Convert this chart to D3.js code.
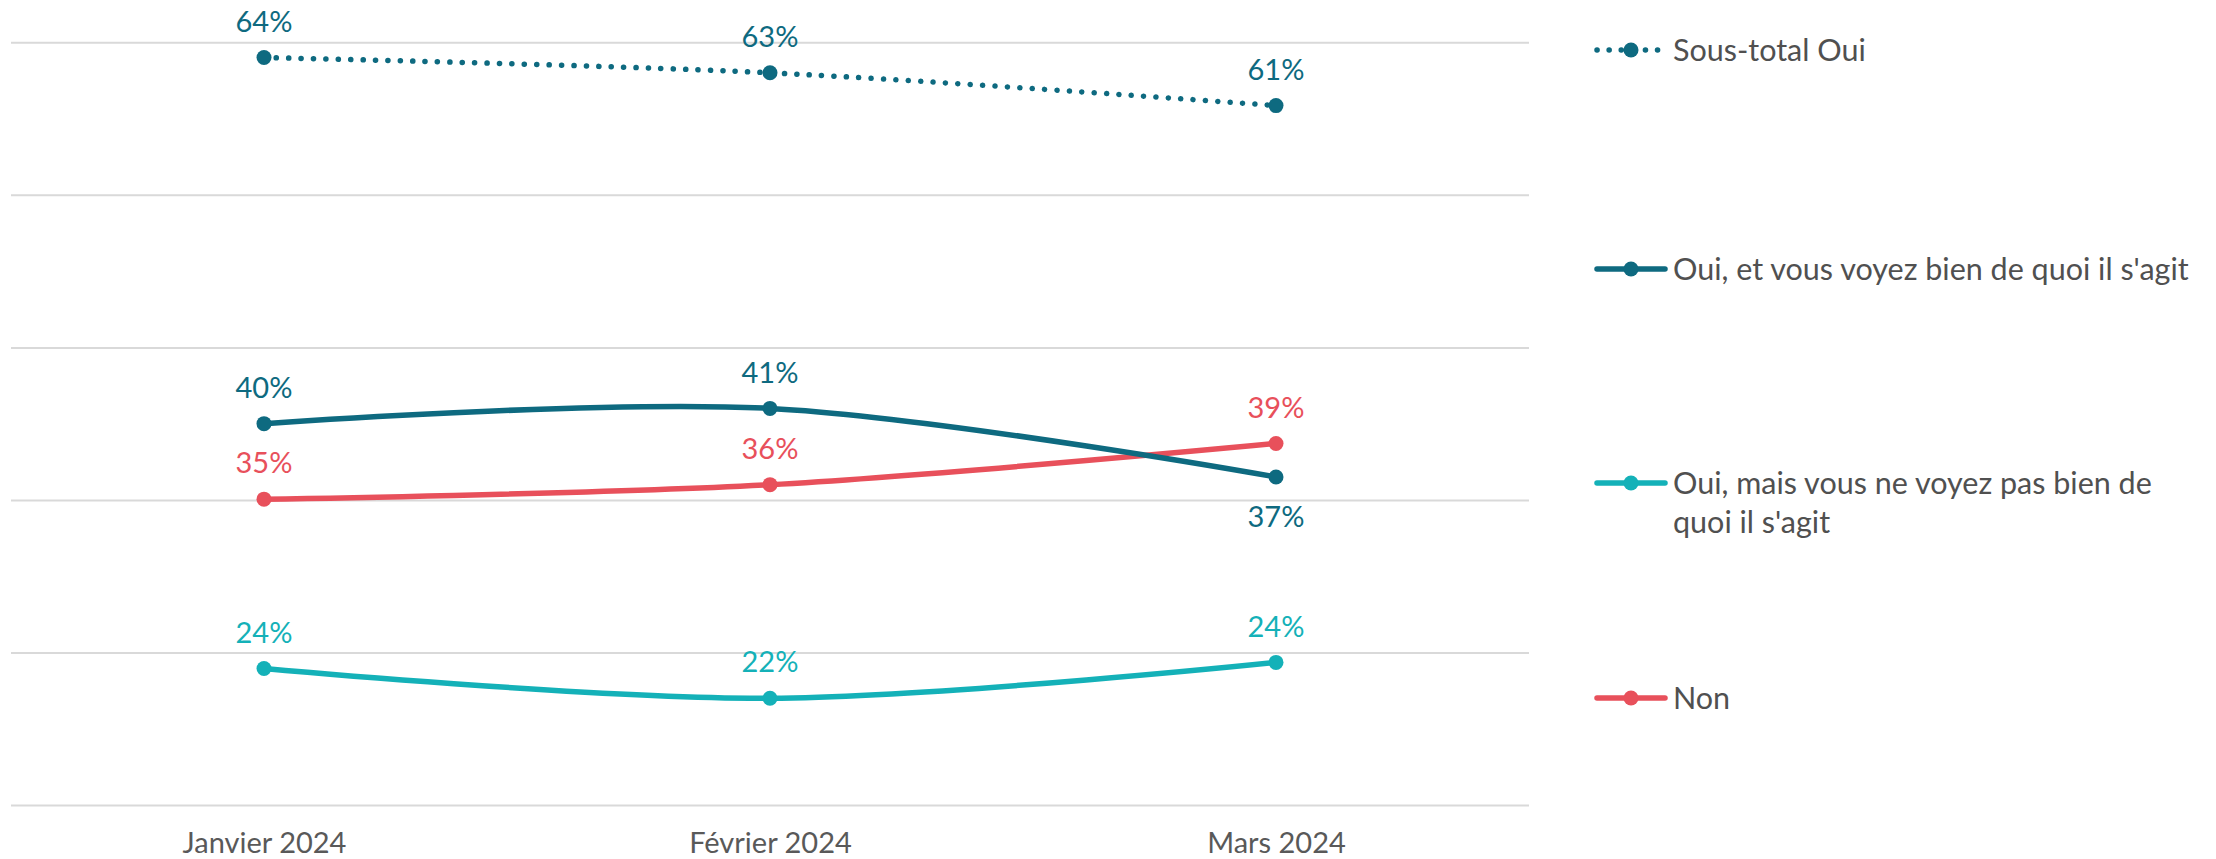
<!DOCTYPE html>
<html><head><meta charset="utf-8">
<script src="https://cdn.jsdelivr.net/npm/d3@7"></script>
<style>
html,body{margin:0;padding:0;background:#fff;}
svg{display:block;}
text{font-family:Lato,"Open Sans",sans-serif;}
</style></head>
<body>
<svg id="chart" width="2216" height="859"></svg>
<script>
const categories = ["Janvier 2024", "Février 2024", "Mars 2024"];
const gridValues = [15, 25, 35, 45, 55, 65];
const sousTotalOui = [64.0, 63.0, 60.85];
const ouiBien = [40.0, 41.0, 36.5];
const ouiPasBien = [23.95, 22.0, 24.35];
const non = [35.05, 36.0, 38.7];
const seriesNames = ["Sous-total Oui", "Oui, et vous voyez bien de quoi il s'agit", "Oui, mais vous ne voyez pas bien de quoi il s'agit", "Non"];
const seriesColors = ["#0E6A80", "#0E6A80", "#14B1B8", "#E8505B"];

const series = [
  {name: seriesNames[0], values: sousTotalOui, color: seriesColors[0], dotted: true, below: [false,false,false]},
  {name: seriesNames[1], values: ouiBien, color: seriesColors[1], dotted: false, below: [false,false,true]},
  {name: seriesNames[2], values: ouiPasBien, color: seriesColors[2], dotted: false, below: [false,false,false]},
  {name: seriesNames[3], values: non, color: seriesColors[3], dotted: false, below: [false,false,false]}
];

const svg = d3.select("#chart");
const x = d3.scalePoint().domain(categories).range([11, 1529]).padding(0.5);
const y = d3.scaleLinear().domain([15, 65]).range([805, 42.3]);

// gridlines
const grid = svg.append("g").attr("transform", "translate(11,0)")
  .call(d3.axisLeft(y).tickValues(gridValues).tickSize(-1518).tickFormat(""));
grid.select(".domain").remove();
grid.selectAll(".tick line").attr("stroke", "#D9D9D9").attr("stroke-width", 2);

// x axis labels
const xa = svg.append("g").attr("transform", "translate(0,805)")
  .call(d3.axisBottom(x).tickSize(0).tickPadding(0));
xa.select(".domain").remove();
xa.selectAll(".tick text").attr("y", 38).attr("dy", "0.35em")
  .attr("fill", "#595959").style("font-size", "29px").style("font-family", "Lato");

const line = d3.line()
  .x((d, i) => x(categories[i]))
  .y(d => y(d))
  .curve(d3.curveCatmullRom.alpha(0.5));

const drawOrder = [2, 3, 1, 0];
drawOrder.forEach(si => {
  const s = series[si];
  const g = svg.append("g");
  g.append("path").datum(s.values)
    .attr("d", line).attr("fill", "none").attr("stroke", s.color)
    .attr("stroke-width", s.dotted ? 5.5 : 5.5)
    .attr("stroke-linecap", "round")
    .attr("stroke-dasharray", s.dotted ? "0.1 12.3" : null);
  g.selectAll("circle").data(s.values).join("circle")
    .attr("cx", (d, i) => x(categories[i])).attr("cy", d => y(d))
    .attr("r", 7.5).attr("fill", s.color);
  g.selectAll("text").data(s.values).join("text")
    .attr("x", (d, i) => x(categories[i]))
    .attr("y", (d, i) => s.below[i] ? y(d) + 40 : y(d) - 36)
    .attr("dy", "0.35em").attr("text-anchor", "middle")
    .attr("fill", s.color).style("font-size", "29px")
    .text(d => Math.round(d) + "%");
});

// legend
const legendRows = [
  {y: 50, lines: ["Sous-total Oui"]},
  {y: 269, lines: ["Oui, et vous voyez bien de quoi il s'agit"]},
  {y: 483, lines: ["Oui, mais vous ne voyez pas bien de", "quoi il s'agit"]},
  {y: 698, lines: ["Non"]}
];
legendRows.forEach((r, i) => {
  const s = series[i];
  const g = svg.append("g").attr("transform", `translate(0,${r.y})`);
  g.append("line").attr("x1", 1597).attr("x2", 1665).attr("y1", 0).attr("y2", 0)
    .attr("stroke", s.color).attr("stroke-width", 5.5)
    .attr("stroke-linecap", "round")
    .attr("stroke-dasharray", s.dotted ? "0.1 12" : null);
  g.append("circle").attr("cx", 1631).attr("cy", 0).attr("r", 7.5).attr("fill", s.color);
  r.lines.forEach((t, j) => {
    g.append("text").attr("x", 1673).attr("y", j * 39).attr("dy", "0.35em")
      .attr("fill", "#505050").style("font-size", "30.5px").text(t);
  });
});
</script>
</body></html>
